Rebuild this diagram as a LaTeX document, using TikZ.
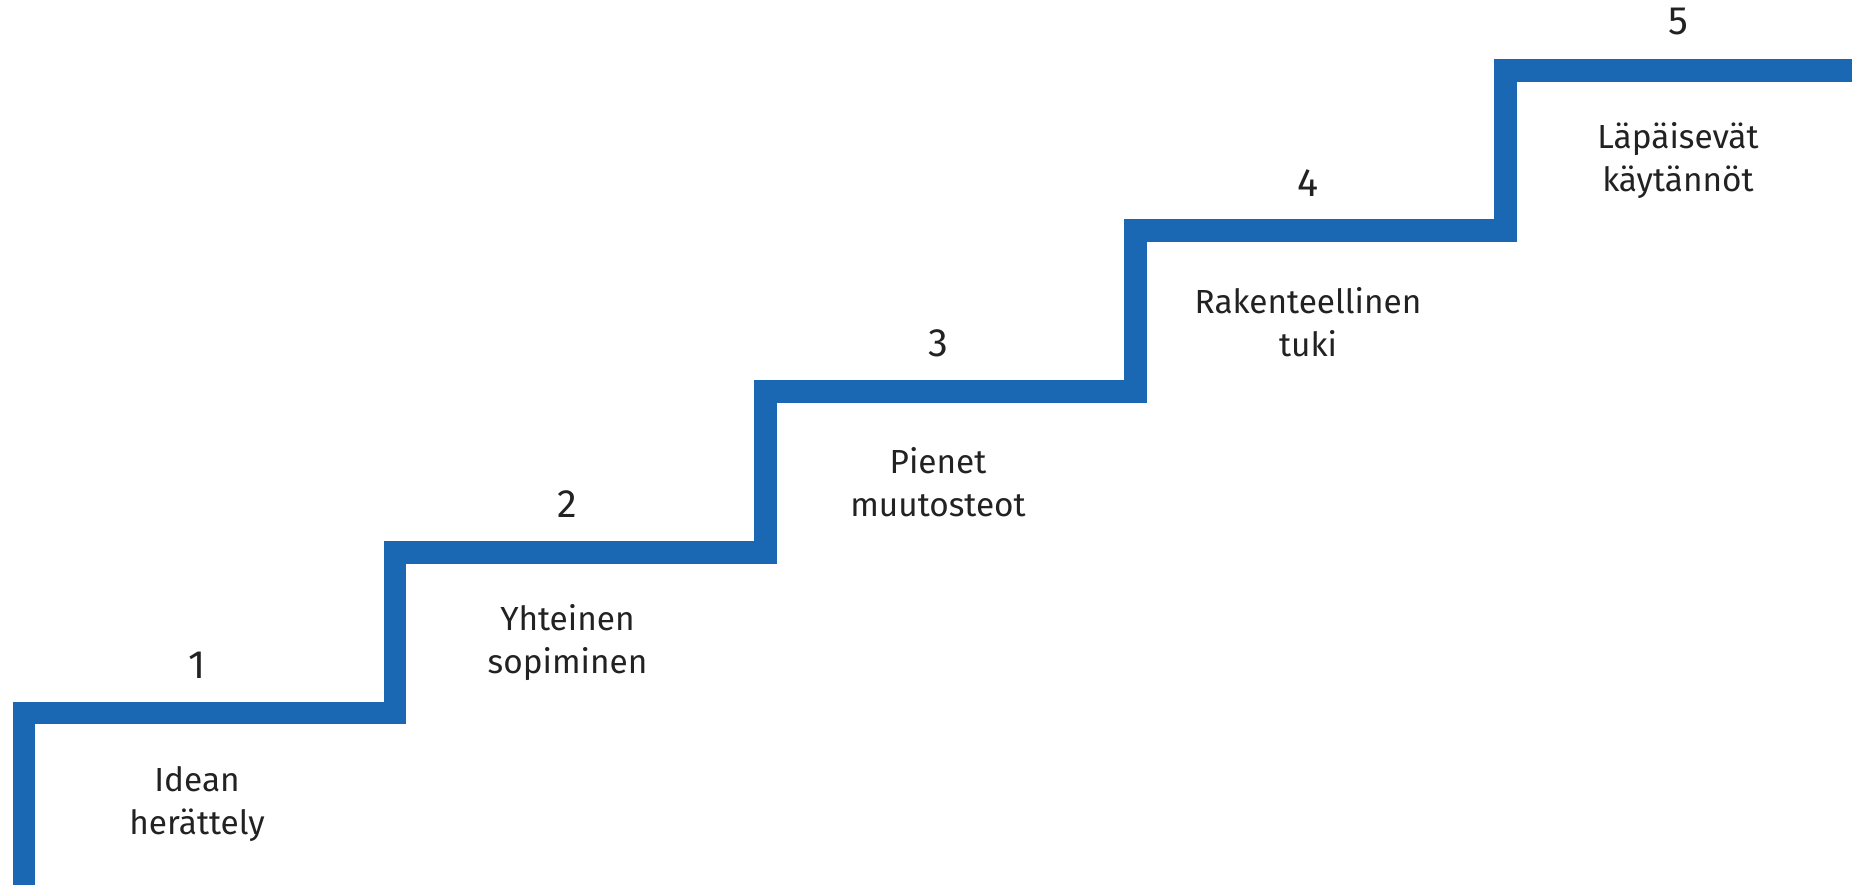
\documentclass[tikz,border=0pt]{standalone}
\usepackage{fontspec}
\setmainfont{Fira Sans}
\usetikzlibrary{positioning}
\definecolor{stairblue}{HTML}{1A68B3}
\definecolor{textdark}{HTML}{222222}

\begin{document}
\begin{tikzpicture}[x=0.02cm, y=-0.02cm,
  stair/.style={line width=0.45cm, draw=stairblue, line join=miter},
  num/.style={font=\fontsize{22.5}{26}\selectfont, text=textdark},
  lbl/.style={align=center, font=\fontsize{19}{24.5}\selectfont, text=textdark}
]
  \useasboundingbox (0,0) rectangle (1852,885);

  \draw[stair] (24,885) |- (395,713) |- (765.5,552.5) |- (1135.5,391.5) |- (1505.5,230.5) |- (1852,70.5);

  \node[num] (n1) at (197,665) {1};
  \node[num] (n2) at (567.5,504) {2};
  \node[num] (n3) at (938,343.5) {3};
  \node[num] (n4) at (1308,183) {4};
  \node[num] (n5) at (1678,22) {5};

  \node[lbl] (lab1) at (197,804) {Idean\\herättely};
  \node[lbl] (lab2) at (567.5,643) {Yhteinen\\sopiminen};
  \node[lbl] (lab3) at (938,482.5) {Pienet\\muutosteot};
  \node[lbl] (lab4) at (1308,322) {Rakenteellinen\\tuki};
  \node[lbl] (lab5) at (1678,161) {Läpäisevät\\käytännöt};
\end{tikzpicture}
\end{document}
